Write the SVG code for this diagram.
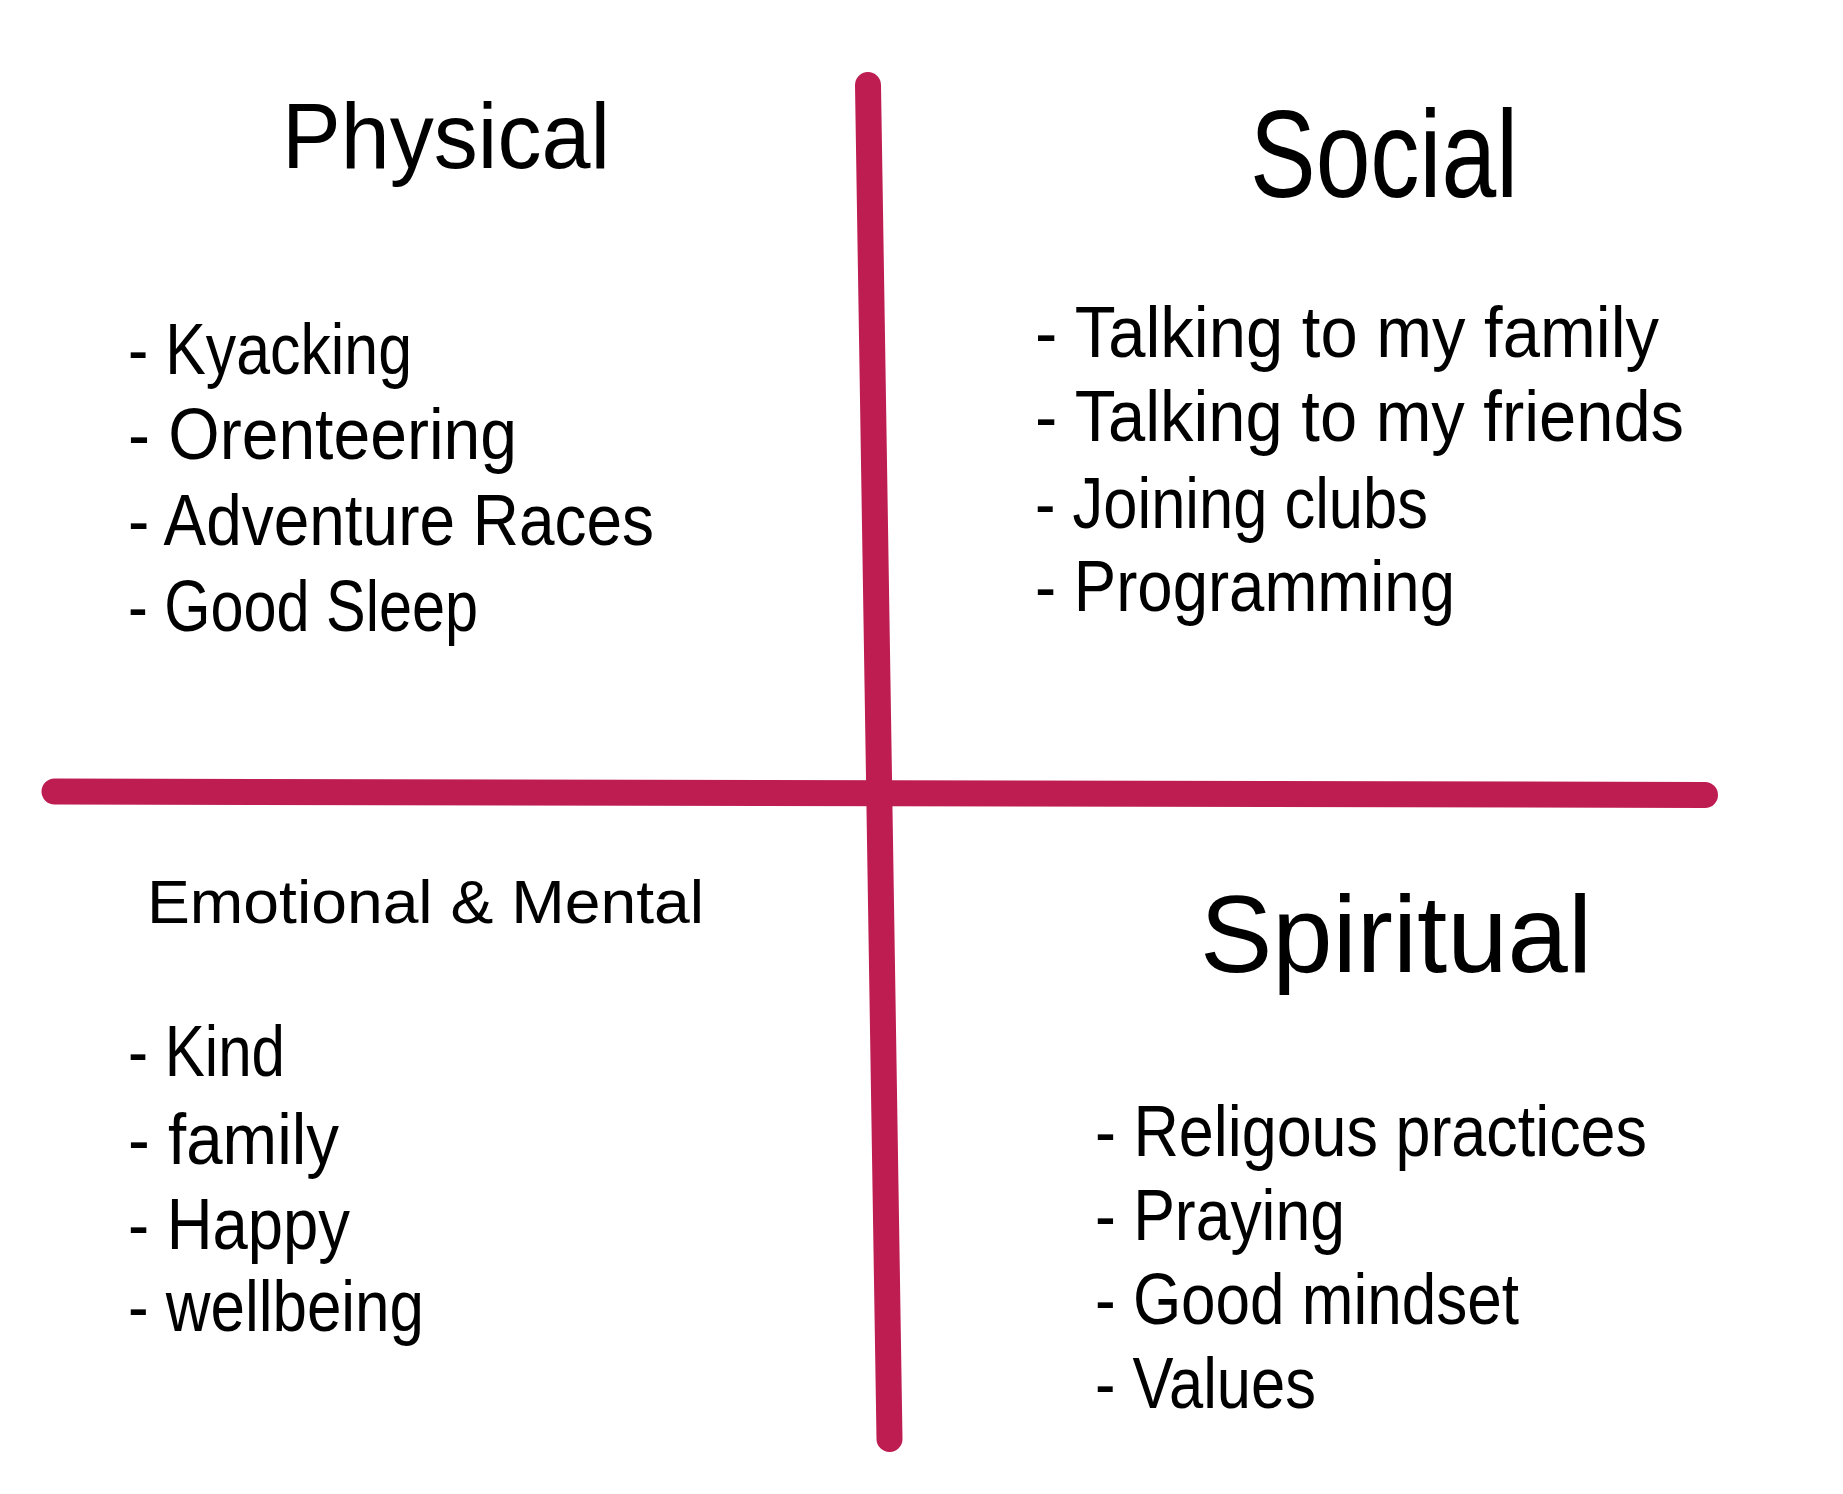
<svg xmlns="http://www.w3.org/2000/svg" width="1843" height="1494" viewBox="0 0 1843 1494">
  <style>
    .axis { stroke: #BE1D51; stroke-width: 26; stroke-linecap: round; fill: none; }
    text { font-family: "Liberation Sans", "Noto Sans", sans-serif; fill: #000; }
    .item { font-size: 72px; }
    .h-physical { font-size: 92px; }
    .h-social { font-size: 124px; }
    .h-spiritual { font-size: 110px; }
    .h-emotional { font-size: 62px; }
  </style>
  <rect width="1843" height="1494" fill="#ffffff"/>

  <g id="connectors">
    <line class="axis" x1="868" y1="85" x2="889.5" y2="1439"/>
    <line class="axis" x1="54.5" y1="791.5" x2="1705" y2="795"/>
  </g>

  <g id="physical">
    <text class="h-physical" x="282" y="168" textLength="328" lengthAdjust="spacingAndGlyphs">Physical</text>
    <text class="item" x="128" y="374" textLength="284" lengthAdjust="spacingAndGlyphs">- Kyacking</text>
    <text class="item" x="128" y="459" textLength="389" lengthAdjust="spacingAndGlyphs">- Orenteering</text>
    <text class="item" x="128" y="545" textLength="526" lengthAdjust="spacingAndGlyphs">- Adventure Races</text>
    <text class="item" x="128" y="631" textLength="350" lengthAdjust="spacingAndGlyphs">- Good Sleep</text>
  </g>

  <g id="social">
    <text class="h-social" x="1250" y="197" textLength="268" lengthAdjust="spacingAndGlyphs">Social</text>
    <text class="item" x="1035" y="357" textLength="624" lengthAdjust="spacingAndGlyphs">- Talking to my family</text>
    <text class="item" x="1035" y="441" textLength="649" lengthAdjust="spacingAndGlyphs">- Talking to my friends</text>
    <text class="item" x="1035" y="528" textLength="393" lengthAdjust="spacingAndGlyphs">- Joining clubs</text>
    <text class="item" x="1035" y="611" textLength="420" lengthAdjust="spacingAndGlyphs">- Programming</text>
  </g>

  <g id="emotional-mental">
    <text class="h-emotional" x="147" y="923" textLength="557" lengthAdjust="spacingAndGlyphs">Emotional &amp; Mental</text>
    <text class="item" x="128" y="1076" textLength="157" lengthAdjust="spacingAndGlyphs">- Kind</text>
    <text class="item" x="128" y="1164" textLength="211" lengthAdjust="spacingAndGlyphs">- family</text>
    <text class="item" x="128" y="1249" textLength="222" lengthAdjust="spacingAndGlyphs">- Happy</text>
    <text class="item" x="128" y="1331" textLength="296" lengthAdjust="spacingAndGlyphs">- wellbeing</text>
  </g>

  <g id="spiritual">
    <text class="h-spiritual" x="1200" y="972" textLength="392" lengthAdjust="spacingAndGlyphs">Spiritual</text>
    <text class="item" x="1095" y="1156" textLength="552" lengthAdjust="spacingAndGlyphs">- Religous practices</text>
    <text class="item" x="1095" y="1240" textLength="250" lengthAdjust="spacingAndGlyphs">- Praying</text>
    <text class="item" x="1095" y="1324" textLength="424" lengthAdjust="spacingAndGlyphs">- Good mindset</text>
    <text class="item" x="1095" y="1408" textLength="221" lengthAdjust="spacingAndGlyphs">- Values</text>
  </g>
</svg>
